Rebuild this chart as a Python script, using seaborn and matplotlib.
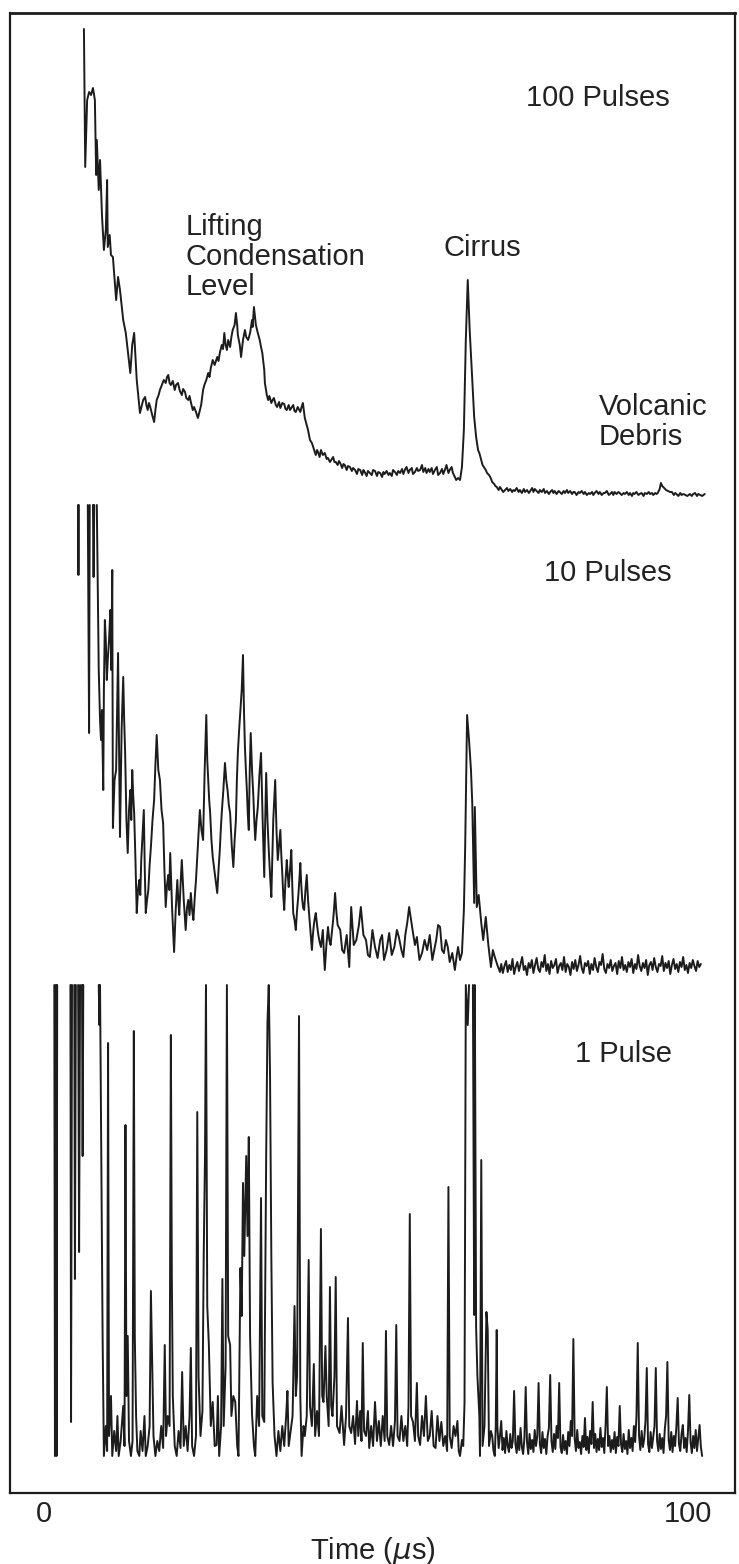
import numpy as np
import pandas as pd
import matplotlib.pyplot as plt
import seaborn as sns

# Lidar returns: (time in microseconds, signal above the trace baseline)
# a gap marks where the pen went off scale
gap = (np.nan, np.nan)

trace_100 = [
    (6.2, 466), (6.4, 328), (6.7, 395), (7.0, 403), (7.3, 400), (7.6, 407), (7.9, 395), (8.1, 320),
    (8.2, 355), (8.5, 305), (8.7, 335), (9.0, 280), (9.3, 245), (9.6, 265), (9.8, 315), (9.9, 248),
    (10.2, 260), (10.4, 240), (10.7, 238), (11.2, 195), (11.5, 218), (11.8, 205), (12.3, 175), (12.7, 162),
    (13.0, 145), (13.4, 122), (13.7, 150), (14.0, 162), (14.4, 115), (14.9, 82), (15.2, 90), (15.4, 95),
    (15.7, 98), (15.9, 90), (16.1, 85), (16.3, 92), (16.5, 88), (16.8, 80), (17.1, 73), (17.3, 85),
    (17.5, 95), (17.8, 100), (18.0, 105), (18.3, 110), (18.6, 115), (18.9, 112), (19.1, 118), (19.3, 120),
    (19.5, 112), (19.7, 110), (20.0, 114), (20.3, 105), (20.5, 110), (20.8, 112), (21.1, 104), (21.4, 100),
    (21.6, 106), (21.9, 103), (22.1, 97), (22.4, 95), (22.6, 99), (22.8, 93), (23.1, 85), (23.3, 88),
    (23.6, 83), (23.9, 77), (24.1, 82), (24.4, 90), (24.7, 105), (24.9, 110), (25.2, 115), (25.5, 122),
    (25.7, 118), (25.9, 127), (26.2, 135), (26.5, 130), (26.9, 138), (27.1, 134), (27.3, 142), (27.6, 150),
    (27.8, 146), (28.0, 162), (28.2, 150), (28.4, 145), (28.6, 155), (28.9, 148), (29.1, 158), (29.3, 165),
    (29.6, 170), (29.8, 182), (30.0, 170), (30.1, 160), (30.4, 150), (30.6, 138), (30.9, 155), (31.2, 165),
    (31.4, 158), (31.7, 155), (32.0, 162), (32.3, 175), (32.4, 168), (32.6, 188), (32.9, 170), (33.2, 162),
    (33.5, 155), (33.7, 148), (33.9, 142), (34.2, 125), (34.3, 112), (34.6, 100), (34.8, 95), (35.0, 99),
    (35.3, 92), (35.5, 95), (35.7, 97), (36.0, 90), (36.2, 88), (36.5, 93), (36.7, 87), (37.0, 92),
    (37.3, 91), (37.5, 86), (37.7, 85), (38.0, 90), (38.2, 85), (38.5, 88), (38.7, 90), (38.9, 84),
    (39.1, 83), (39.4, 88), (39.8, 83), (40.0, 88), (40.2, 92), (40.5, 77), (40.8, 70), (41.0, 65),
    (41.2, 58), (41.3, 55), (41.6, 52), (41.8, 48), (42.0, 44), (42.2, 40), (42.4, 45), (42.6, 42),
    (42.8, 38), (43.0, 45), (43.3, 40), (43.6, 42), (43.9, 36), (44.1, 37), (44.4, 33), (44.7, 36),
    (44.9, 38), (45.1, 33), (45.3, 33), (45.6, 30), (45.8, 34), (46.0, 32), (46.3, 27), (46.5, 31),
    (46.7, 30), (47.0, 25), (47.2, 29), (47.5, 28), (47.8, 24), (48.0, 27), (48.3, 25), (48.6, 21),
    (48.8, 26), (49.1, 25), (49.4, 20), (49.6, 25), (49.8, 23), (50.1, 19), (50.3, 24), (50.6, 22),
    (50.9, 20), (51.1, 25), (51.4, 24), (51.7, 19), (51.9, 23), (52.2, 22), (52.5, 18), (52.7, 23),
    (52.9, 21), (53.2, 24), (53.5, 20), (53.7, 22), (54.0, 19), (54.2, 25), (54.5, 23), (54.8, 20),
    (55.0, 24), (55.3, 22), (55.6, 26), (55.8, 21), (56.1, 26), (56.3, 28), (56.6, 22), (56.8, 25),
    (57.1, 27), (57.3, 21), (57.6, 23), (57.9, 27), (58.1, 24), (58.4, 25), (58.7, 30), (58.9, 23),
    (59.2, 27), (59.4, 22), (59.7, 26), (59.9, 23), (60.2, 27), (60.4, 21), (60.7, 25), (61.0, 28),
    (61.2, 20), (61.5, 22), (61.8, 26), (62.0, 21), (62.3, 26), (62.5, 30), (62.8, 22), (63.0, 25),
    (63.3, 28), (63.5, 22), (63.8, 18), (64.0, 15), (64.3, 17), (64.6, 15), (64.9, 28), (65.2, 65),
    (65.5, 155), (65.8, 215), (66.1, 165), (66.5, 115), (66.8, 78), (67.1, 58), (67.4, 45), (67.6, 42),
    (67.9, 35), (68.1, 30), (68.3, 28), (68.6, 25), (68.8, 22), (69.1, 20), (69.3, 18), (69.6, 13),
    (69.9, 11), (70.1, 9), (70.3, 8), (70.6, 5), (70.8, 8), (71.0, 6), (71.3, 3), (71.6, 5),
    (71.9, 7), (72.1, 4), (72.4, 6), (72.7, 3), (72.9, 5), (73.1, 4), (73.4, 7), (73.7, 3),
    (73.9, 5), (74.2, 2), (74.5, 6), (74.7, 3), (75.0, 5), (75.3, 2), (75.5, 4), (75.8, 7),
    (76.0, 3), (76.2, 6), (76.5, 4), (76.8, 2), (77.0, 5), (77.3, 3), (77.6, 6), (77.8, 2),
    (78.1, 4), (78.4, 1), (78.6, 3), (78.9, 5), (79.1, 2), (79.3, 4), (79.6, 1), (79.9, 4),
    (80.1, 3), (80.4, 1), (80.7, 4), (80.9, 2), (81.2, 5), (81.4, 2), (81.7, 4), (82.0, 1),
    (82.2, 3), (82.4, 3), (82.7, 0), (83.0, 3), (83.2, 2), (83.5, 4), (83.8, 1), (84.0, 3),
    (84.3, 0), (84.6, 2), (84.8, 1), (85.1, 3), (85.3, 0), (85.5, 2), (85.8, 4), (86.1, 1),
    (86.3, 3), (86.6, 0), (86.9, 2), (87.1, 2), (87.4, 4), (87.7, 0), (87.9, 1), (88.2, 3),
    (88.4, 0), (88.6, 3), (88.9, 1), (89.2, 3), (89.4, 2), (89.7, 0), (90.0, 2), (90.2, 1),
    (90.5, 3), (90.8, 0), (91.0, 2), (91.3, -1), (91.5, 2), (91.7, 1), (92.0, 3), (92.3, 0),
    (92.5, 1), (92.8, 2), (93.1, -1), (93.3, 2), (93.6, 1), (93.9, 3), (94.1, 1), (94.4, 2),
    (94.6, 0), (94.9, 2), (95.1, 1), (95.3, 2), (95.6, 6), (95.8, 12), (96.0, 9), (96.3, 7),
    (96.6, 5), (96.9, 4), (97.2, 3), (97.5, 3), (97.8, 0), (98.0, 2), (98.2, 1), (98.5, -1),
    (98.8, 2), (99.0, 0), (99.3, 1), (99.6, 0), (99.9, -1), (100.3, 1), (100.6, -1), (100.8, 1),
    (101.1, 2), (101.4, -1), (101.6, 1), (101.9, 0), (102.2, -1), (102.6, 1),
]

trace_10 = [
    (5.3, 465), (5.35, 395), (5.4, 465), gap,
    (6.8, 465), (7.0, 237), (7.1, 465), gap,
    (7.6, 465), (7.7, 393), (7.8, 465), gap,
    (8.2, 465), (8.35, 380), (8.5, 300), (8.7, 250), (8.85, 230), (9.0, 260), (9.2, 180), (9.3, 280),
    (9.45, 350), (9.6, 330), (9.75, 290), (9.9, 310), (10.1, 330), (10.3, 360), (10.45, 300), (10.6, 400),
    (10.7, 142), (10.95, 190), (11.2, 200), (11.35, 260), (11.5, 317), (11.65, 220), (11.8, 133), (12.05, 240),
    (12.3, 293), (12.45, 250), (12.6, 217), (12.8, 150), (13.0, 117), (13.2, 160), (13.4, 180), (13.55, 150),
    (13.7, 200), (13.85, 175), (14.0, 157), (14.2, 110), (14.4, 57), (14.6, 80), (14.8, 90), (14.95, 75),
    (15.1, 110), (15.3, 135), (15.5, 160), (15.65, 100), (15.8, 57), (16.0, 70), (16.2, 80), (16.4, 105),
    (16.6, 123), (16.85, 150), (17.1, 170), (17.3, 205), (17.5, 235), (17.75, 200), (18.0, 190), (18.25, 160),
    (18.5, 147), (18.7, 100), (18.9, 63), (19.1, 85), (19.3, 95), (19.45, 80), (19.6, 117), (19.9, 60),
    (20.2, 18), (20.45, 60), (20.7, 90), (20.85, 70), (21.0, 55), (21.2, 85), (21.4, 110), (21.7, 70),
    (22.0, 40), (22.2, 62), (22.4, 70), (22.6, 55), (22.8, 77), (23.0, 60), (23.2, 50), (23.4, 72),
    (23.6, 90), (23.9, 125), (24.2, 160), (24.45, 140), (24.7, 130), (24.95, 200), (25.2, 255), (25.35, 210),
    (25.5, 190), (25.65, 170), (25.8, 157), (26.0, 130), (26.2, 113), (26.55, 95), (26.9, 77), (27.1, 100),
    (27.3, 120), (27.45, 140), (27.6, 157), (27.85, 180), (28.1, 207), (28.3, 190), (28.5, 180), (28.7, 165),
    (28.9, 157), (29.15, 125), (29.4, 103), (29.6, 130), (29.8, 150), (29.95, 190), (30.1, 217), (30.3, 240),
    (30.5, 260), (30.7, 280), (30.9, 315), (31.05, 260), (31.2, 223), (31.35, 200), (31.5, 180), (31.65, 155),
    (31.8, 140), (31.95, 200), (32.1, 237), (32.3, 200), (32.5, 175), (32.65, 150), (32.8, 130), (33.0, 150),
    (33.2, 163), (33.45, 195), (33.7, 217), (33.95, 150), (34.2, 93), (34.35, 150), (34.5, 197), (34.7, 150),
    (34.9, 120), (35.1, 95), (35.3, 73), (35.45, 110), (35.6, 150), (35.75, 170), (35.9, 190), (36.1, 140),
    (36.3, 110), (36.5, 125), (36.7, 140), (36.85, 115), (37.0, 97), (37.15, 75), (37.3, 60), (37.5, 90),
    (37.7, 110), (37.85, 95), (38.0, 83), (38.2, 100), (38.4, 120), (38.55, 85), (38.7, 57), (38.9, 50),
    (39.1, 40), (39.3, 60), (39.5, 75), (39.65, 90), (39.8, 107), (39.95, 85), (40.1, 70), (40.25, 62),
    (40.4, 60), (40.6, 80), (40.8, 95), (41.0, 70), (41.2, 53), (41.4, 35), (41.6, 20), (41.75, 35),
    (41.9, 45), (42.05, 52), (42.2, 57), (42.4, 45), (42.6, 35), (42.8, 28), (43.0, 23), (43.15, 32),
    (43.3, 40), (43.45, 18), (43.6, 0), (43.85, 25), (44.1, 43), (44.3, 30), (44.5, 25), (44.7, 38),
    (44.9, 50), (45.05, 62), (45.2, 77), (45.4, 58), (45.6, 45), (46.0, 40), (46.3, 20), (46.6, 17),
    (47.0, 35), (47.4, 3), (47.7, 63), (48.1, 25), (48.5, 30), (48.9, 45), (49.2, 63), (49.6, 35),
    (50.0, 30), (50.3, 15), (50.6, 13), (51.0, 40), (51.4, 23), (51.8, 12), (52.2, 30), (52.5, 35),
    (52.8, 10), (53.2, 20), (53.6, 37), (54.0, 15), (54.4, 23), (54.8, 40), (55.1, 33), (55.5, 20),
    (55.8, 13), (56.1, 35), (56.4, 47), (56.7, 63), (57.0, 50), (57.3, 37), (57.6, 25), (57.9, 33),
    (58.3, 10), (58.7, 17), (59.1, 30), (59.5, 20), (59.9, 35), (60.3, 10), (60.6, 20), (60.9, 30),
    (61.2, 45), (61.5, 43), (61.8, 20), (62.1, 17), (62.4, 30), (62.7, 23), (63.0, 8), (63.4, 17),
    (63.8, 0), (64.1, 15), (64.3, 23), (64.6, 10), (64.9, 17), (65.2, 60), (65.4, 123), (65.7, 255),
    (66.0, 230), (66.3, 200), (66.5, 167), (66.8, 67), (66.9, 163), (67.2, 63), (67.5, 75), (67.9, 47),
    (68.2, 30), (68.6, 53), (69.0, 25), (69.4, 3), (69.7, 20), (70.0, 13), (70.4, 5), (70.8, -2),
    (71.0, 6), (71.25, -3), (71.5, 4), (71.75, 9), (72.0, -2), (72.25, 5), (72.5, 0), (72.75, 11),
    (73.0, -4), (73.25, 3), (73.5, 8), (73.75, -1), (74.0, 6), (74.25, 13), (74.5, 0), (74.75, 4),
    (75.0, -5), (75.25, 7), (75.5, 2), (75.75, 10), (76.0, -3), (76.25, 5), (76.5, 12), (76.75, 1),
    (77.0, -2), (77.25, 8), (77.5, 3), (77.75, 15), (78.0, -1), (78.25, 6), (78.5, -4), (78.75, 9),
    (79.0, 2), (79.25, 5), (79.5, 11), (79.75, -3), (80.0, 4), (80.25, 7), (80.5, 0), (80.75, 13),
    (81.0, -2), (81.25, 6), (81.5, 3), (81.75, -5), (82.0, 8), (82.25, 1), (82.5, 10), (82.75, -1),
    (83.0, 5), (83.25, 14), (83.5, 2), (83.75, -3), (84.0, 7), (84.25, 4), (84.5, 9), (84.75, -4),
    (85.0, 6), (85.25, 0), (85.5, 12), (85.75, 3), (86.0, -2), (86.25, 8), (86.5, 5), (86.75, 16),
    (87.0, 1), (87.25, -3), (87.5, 6), (87.75, 2), (88.0, 10), (88.25, -1), (88.5, 4), (88.75, 7),
    (89.0, -4), (89.25, 9), (89.5, 2), (89.75, 13), (90.0, 0), (90.25, 5), (90.5, -2), (90.75, 8),
    (91.0, 3), (91.25, 11), (91.5, -3), (91.75, 6), (92.0, 1), (92.25, 15), (92.5, 4), (92.75, -1),
    (93.0, 7), (93.25, 2), (93.5, 10), (93.75, -5), (94.0, 5), (94.25, 8), (94.5, 0), (94.75, 12),
    (95.0, 3), (95.25, -2), (95.5, 6), (95.75, 4), (96.0, 14), (96.25, -1), (96.5, 7), (96.75, 2),
    (97.0, 9), (97.25, -4), (97.5, 5), (97.75, 11), (98.0, 1), (98.25, 6), (98.5, -2), (98.75, 8),
    (99.0, 3), (99.25, 13), (99.5, 0), (99.75, 5), (100.0, -3), (100.25, 7), (100.5, 2), (100.75, 10),
    (101.0, 4), (101.25, -1), (101.5, 9), (101.75, 3), (102.0, 6),
]

trace_1 = [
    (1.6, 471), (1.7, 0), (1.85, 471), (1.95, 0), (2.05, 471), gap,
    (4.1, 471), (4.2, 34), (4.35, 471), gap,
    (4.7, 471), (4.8, 177), (4.95, 471), gap,
    (5.3, 471), (5.45, 204), (5.6, 471), gap,
    (5.9, 471), (6.0, 300), (6.1, 471), gap,
    (8.5, 471), (8.6, 431), (8.7, 471), (8.9, 300), (9.1, 120), (9.3, 0), (9.6, 30), (9.8, 5),
    (9.95, 413), (10.1, 20), (10.4, 60), (10.6, 0), (10.9, 25), (11.2, 5), (11.4, 40), (11.6, 0),
    (11.9, 15), (12.3, 50), (12.5, 10), (12.65, 331), (12.8, 60), (13.0, 120), (13.2, 15), (13.5, 0),
    (13.75, 15), (13.95, 425), (14.1, 120), (14.3, 40), (14.5, 5), (14.8, 0), (15.0, 25), (15.3, 5),
    (15.6, 40), (15.8, 0), (16.1, 10), (16.4, 30), (16.6, 165), (16.8, 90), (17.0, 20), (17.3, 0),
    (17.6, 15), (17.9, 5), (18.2, 30), (18.5, 8), (18.75, 111), (18.95, 20), (19.2, 40), (19.5, 30),
    (19.7, 421), (19.85, 180), (20.0, 60), (20.3, 10), (20.6, 0), (20.9, 25), (21.2, 8), (21.45, 84),
    (21.7, 10), (22.0, 30), (22.3, 5), (22.6, 40), (22.8, 108), (23.0, 10), (23.3, 0), (23.6, 20),
    (23.8, 344), (24.0, 80), (24.3, 20), (24.6, 45), (24.8, 200), (25.0, 300), (25.15, 471), (25.35, 150),
    (25.6, 111), (25.9, 30), (26.2, 54), (26.5, 10), (26.8, 11), (27.0, 60), (27.2, 0), (27.5, 30),
    (27.7, 177), (27.9, 30), (28.2, 90), (28.4, 471), (28.6, 120), (28.9, 111), (29.1, 40), (29.4, 60),
    (29.7, 54), (30.0, 10), (30.2, 0), (30.5, 188), (30.7, 140), (30.9, 273), (31.1, 200), (31.4, 300),
    (31.6, 220), (31.8, 319), (32.0, 120), (32.3, 42), (32.6, 10), (32.8, 0), (33.1, 60), (33.4, 30),
    (33.7, 258), (33.9, 40), (34.2, 34), (34.5, 300), (34.7, 434), (34.9, 471), (35.1, 380), (35.3, 200),
    (35.5, 73), (35.8, 20), (36.1, 0), (36.4, 25), (36.7, 5), (37.0, 30), (37.3, 10), (37.6, 40),
    (37.8, 65), (38.0, 10), (38.3, 25), (38.6, 40), (38.9, 150), (39.1, 60), (39.3, 80), (39.6, 440),
    (39.8, 60), (40.0, 0), (40.3, 30), (40.5, 20), (40.8, 40), (41.1, 196), (41.3, 50), (41.6, 30),
    (41.9, 92), (42.1, 20), (42.4, 45), (42.7, 20), (43.0, 227), (43.2, 60), (43.4, 54), (43.7, 110),
    (43.9, 60), (44.2, 30), (44.4, 169), (44.6, 50), (44.8, 40), (45.1, 80), (45.3, 179), (45.5, 30),
    (45.9, 23), (46.2, 50), (46.6, 11), (46.9, 40), (47.2, 138), (47.4, 30), (47.7, 23), (48.0, 40),
    (48.3, 12), (48.6, 55), (48.8, 20), (49.1, 45), (49.3, 15), (49.5, 113), (49.7, 25), (50.0, 20),
    (50.3, 45), (50.5, 8), (50.8, 30), (51.1, 10), (51.4, 54), (51.7, 15), (52.0, 35), (52.3, 10),
    (52.6, 40), (52.9, 15), (53.1, 125), (53.3, 20), (53.6, 11), (53.9, 30), (54.2, 10), (54.5, 35),
    (54.7, 131), (54.9, 20), (55.2, 15), (55.5, 40), (55.8, 15), (56.1, 30), (56.4, 10), (56.6, 50),
    (56.8, 242), (57.0, 40), (57.3, 34), (57.6, 15), (57.9, 73), (58.1, 20), (58.4, 11), (58.7, 40),
    (59.0, 20), (59.3, 60), (59.6, 15), (59.9, 20), (60.2, 45), (60.5, 10), (60.8, 8), (61.1, 40),
    (61.4, 15), (61.7, 34), (62.0, 10), (62.3, 20), (62.6, 5), (62.8, 269), (63.0, 20), (63.3, 8),
    (63.6, 30), (63.9, 20), (64.2, 35), (64.4, 5), (64.6, 0), (64.9, 16), (65.1, 10), (65.3, 53),
    (65.5, 471), (65.8, 431), (66.0, 471), gap,
    (66.6, 471), (66.8, 141), (66.9, 471), (67.1, 129), (67.3, 80), (67.6, 40), (67.7, 0), (67.9, 296),
    (68.1, 10), (68.4, 30), (68.7, 144), (68.9, 126), (69.1, 10), (69.4, 25), (69.6, 20), (69.8, 5),
    (70.0, 0), (70.15, 30), (70.3, 126), (70.4, 30), (70.6, 8), (70.8, 20), (71.0, 35), (71.2, 6),
    (71.4, 18), (71.6, 3), (71.8, 25), (72.0, 10), (72.2, 4), (72.4, 22), (72.6, 8), (72.8, 15),
    (73.0, 65), (73.2, 12), (73.4, 3), (73.6, 20), (73.8, 6), (74.0, 28), (74.2, 9), (74.4, 2),
    (74.6, 18), (74.8, 69), (75.0, 14), (75.2, 2), (75.4, 22), (75.6, 7), (75.8, 16), (76.0, 4),
    (76.2, 26), (76.4, 10), (76.6, 20), (76.8, 73), (77.0, 12), (77.2, 3), (77.4, 24), (77.6, 8),
    (77.8, 17), (78.0, 2), (78.2, 20), (78.4, 28), (78.6, 81), (78.8, 15), (79.0, 4), (79.2, 22),
    (79.4, 7), (79.6, 30), (79.8, 18), (80.0, 73), (80.2, 9), (80.4, 3), (80.6, 21), (80.8, 6),
    (81.0, 15), (81.2, 2), (81.4, 24), (81.6, 10), (81.8, 35), (82.0, 20), (82.2, 117), (82.4, 18),
    (82.6, 5), (82.8, 26), (83.0, 8), (83.2, 14), (83.4, 2), (83.6, 20), (83.8, 9), (84.0, 38),
    (84.2, 6), (84.4, 19), (84.6, 3), (84.8, 25), (85.0, 12), (85.2, 54), (85.4, 8), (85.6, 22),
    (85.8, 4), (86.0, 17), (86.2, 6), (86.4, 28), (86.6, 9), (86.8, 18), (87.0, 3), (87.2, 30),
    (87.4, 69), (87.6, 10), (87.8, 20), (88.0, 4), (88.2, 16), (88.4, 7), (88.6, 24), (88.8, 3),
    (89.0, 19), (89.2, 10), (89.4, 50), (89.6, 12), (89.8, 4), (90.0, 22), (90.2, 7), (90.4, 15),
    (90.6, 2), (90.8, 26), (91.0, 8), (91.2, 18), (91.4, 5), (91.6, 30), (91.8, 14), (92.0, 40),
    (92.2, 113), (92.4, 20), (92.6, 6), (92.8, 25), (93.0, 9), (93.2, 17), (93.4, 35), (93.6, 88),
    (93.8, 12), (94.0, 4), (94.2, 24), (94.4, 8), (94.6, 19), (94.8, 30), (95.0, 88), (95.2, 15),
    (95.4, 5), (95.6, 22), (95.8, 7), (96.0, 18), (96.2, 3), (96.4, 27), (96.6, 40), (96.8, 94),
    (97.0, 16), (97.2, 6), (97.4, 24), (97.6, 4), (97.8, 20), (98.0, 10), (98.2, 30), (98.4, 58),
    (98.6, 12), (98.8, 5), (99.0, 22), (99.2, 31), (99.4, 8), (99.6, 18), (99.8, 4), (100.0, 25),
    (100.2, 61), (100.4, 14), (100.6, 3), (100.8, 20), (101.0, 8), (101.2, 26), (101.4, 5), (101.6, 18),
    (101.8, 31), (102.0, 9), (102.2, 0),
]

trace_names = ["100 Pulses", "10 Pulses", "1 Pulse"]
baselines = [998, 523, 37]  # where each record sits on the sheet

frames = []
for name, trace, base in zip(trace_names, [trace_100, trace_10, trace_1], baselines):
    d = pd.DataFrame(trace, columns=["t", "s"])
    d["seg"] = name + "_" + d["t"].isna().cumsum().astype(str)
    d["y"] = d["s"] + base
    frames.append(d.dropna())
df = pd.concat(frames, ignore_index=True)

sns.set_theme(style="white")
plt.rcParams["font.family"] = ["Liberation Sans", "DejaVu Sans"]
ink = "#1c1c1c"

fig = plt.figure(figsize=(7.39, 15.64), dpi=100)
ax = fig.add_axes([10 / 739, 71 / 1564, 725 / 739, 1480 / 1564])

sns.lineplot(data=df, x="t", y="y", units="seg", estimator=None, sort=False,
             color=ink, linewidth=1.4, legend=False, ax=ax)

ax.set_xlim(-5.28, 107.3)
ax.set_ylim(0, 1480)
ax.set_xticks([0, 100])
ax.set_yticks([])
ax.tick_params(axis="x", direction="in", length=15, width=1.1, color=ink,
               labelsize=21, labelcolor="#222222", pad=5)
ax.set_xlabel("Time ($\\mu$s)", fontsize=21, color="#222222", labelpad=5)
ax.set_ylabel("")
for side, sp in ax.spines.items():
    sp.set_visible(True)
    sp.set_color(ink)
    sp.set_linewidth(2.0 if side == "top" else 1.6)

txt = dict(fontsize=21, color="#222222", va="center", ha="left", linespacing=1.08)
ax.text(74.8, 1395, "100 Pulses", **txt)
ax.text(22.0, 1236, "Lifting\nCondensation\nLevel", **txt)
ax.text(62.0, 1245, "Cirrus", **txt)
ax.text(86.2, 1071, "Volcanic\nDebris", **txt)
ax.text(77.6, 920, "10 Pulses", **txt)
ax.text(82.5, 439, "1 Pulse", **txt)

fig.savefig("out.png", dpi=100)
